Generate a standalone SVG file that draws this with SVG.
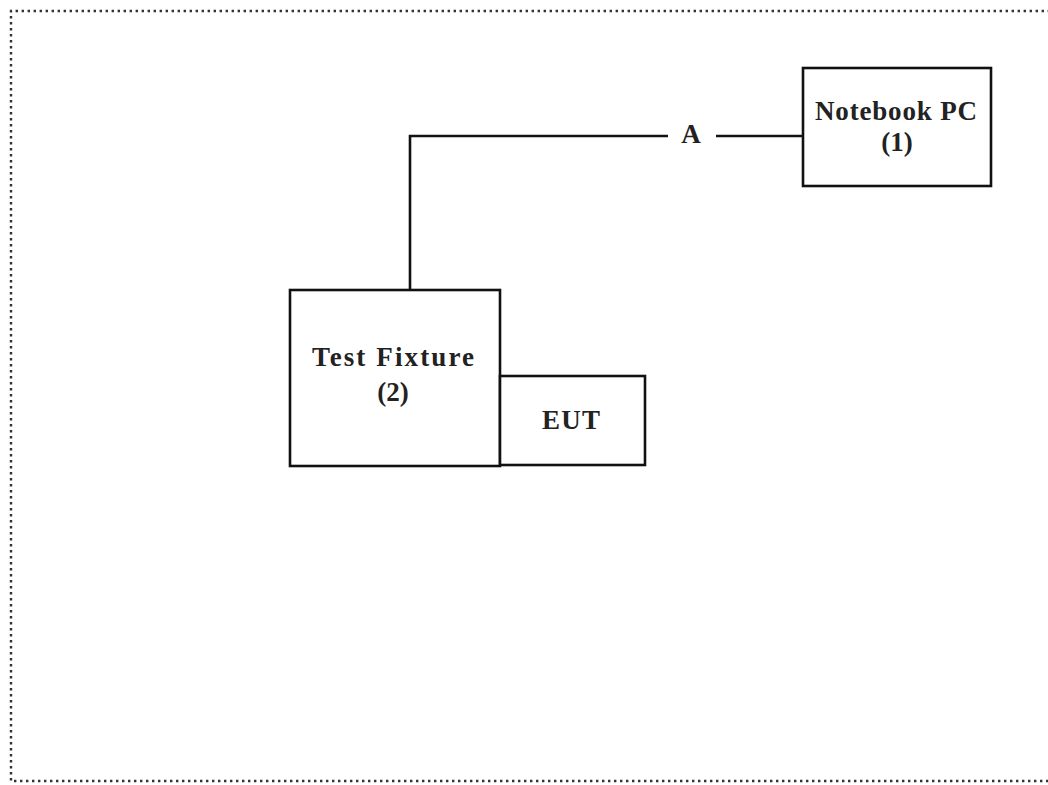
<svg xmlns="http://www.w3.org/2000/svg" width="1048" height="785" viewBox="0 0 1048 785">
<style>
.box{fill:#fff;stroke:#111;stroke-width:2.6}
.lbl{font-family:"Liberation Serif","Times New Roman",serif;font-weight:bold;font-size:27px;fill:#222;text-anchor:middle}
.wire{fill:none;stroke:#111;stroke-width:2.6}
.frame{fill:none;stroke:#333;stroke-width:2.4;stroke-dasharray:2.4 3.6}
</style>
<rect width="1048" height="785" fill="#fff"/>
<path class="frame" d="M1050,11 H11 V781 H1050"/>
<g id="connectors">
<path class="wire" d="M410,290 V136 H668"/>
<path class="wire" d="M716,136 H803"/>
<text class="lbl" x="691" y="143">A</text>
</g>
<g id="notebook">
<rect class="box" x="803" y="68" width="188" height="118"/>
<text class="lbl" x="896" y="120" textLength="162" lengthAdjust="spacing">Notebook PC</text>
<text class="lbl" x="897" y="151">(1)</text>
</g>
<g id="fixture">
<rect class="box" x="290" y="290" width="210" height="176"/>
<text class="lbl" x="393" y="366" textLength="162" lengthAdjust="spacing">Test Fixture</text>
<text class="lbl" x="393" y="401">(2)</text>
</g>
<g id="eut">
<rect class="box" x="500" y="376" width="145" height="89"/>
<text class="lbl" x="571" y="429" textLength="58" lengthAdjust="spacing">EUT</text>
</g>
</svg>
